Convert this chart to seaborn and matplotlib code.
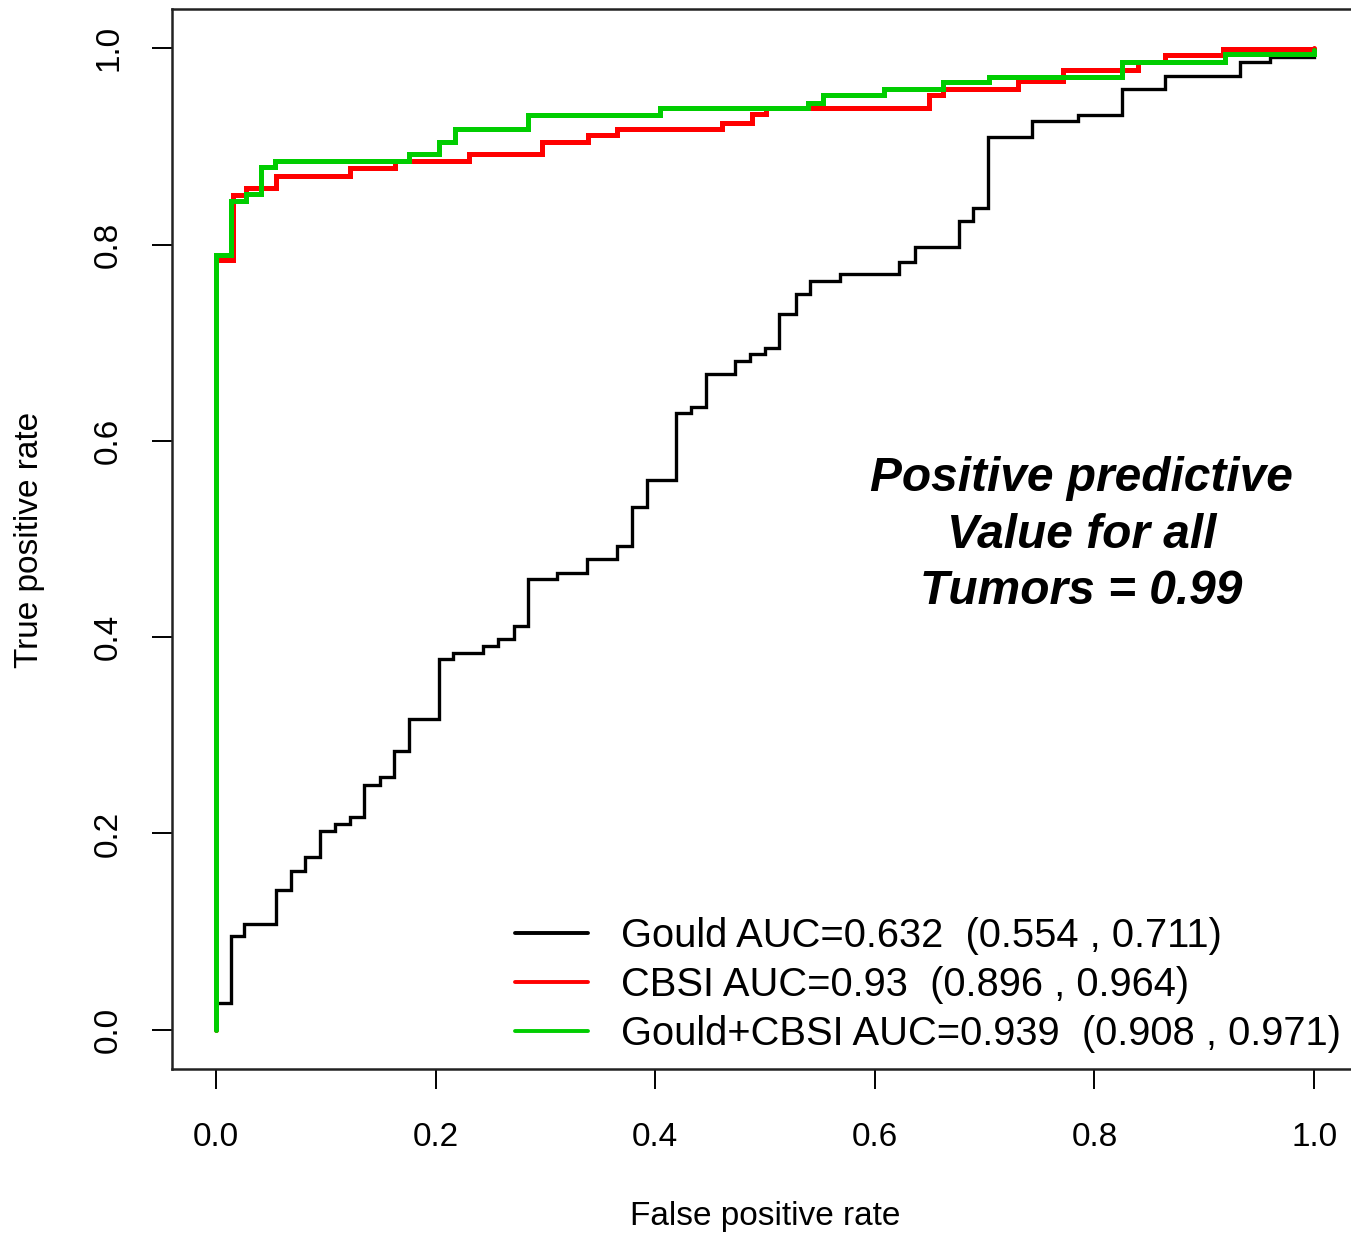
import numpy as np
import pandas as pd
import matplotlib
matplotlib.use("Agg")
import matplotlib.pyplot as plt
import seaborn as sns

# ROC step breakpoints (false positive rate) and the true positive rate reached at each
gould_fpr = [0.000, 0.014, 0.026, 0.055, 0.068, 0.081, 0.095, 0.108, 0.122, 0.135,
             0.149, 0.162, 0.176, 0.203, 0.216, 0.243, 0.257, 0.271, 0.284, 0.311,
             0.338, 0.365, 0.379, 0.393, 0.419, 0.433, 0.446, 0.473, 0.486, 0.500,
             0.513, 0.528, 0.541, 0.568, 0.622, 0.637, 0.677, 0.689, 0.703, 0.743,
             0.785, 0.825, 0.864, 0.933, 0.960, 1.000]
gould_tpr = [0.027, 0.095, 0.108, 0.142, 0.162, 0.176, 0.202, 0.210, 0.217, 0.249,
             0.257, 0.284, 0.317, 0.378, 0.384, 0.391, 0.398, 0.411, 0.459, 0.465,
             0.480, 0.493, 0.533, 0.560, 0.628, 0.634, 0.668, 0.681, 0.688, 0.695,
             0.729, 0.750, 0.763, 0.770, 0.782, 0.797, 0.824, 0.837, 0.910, 0.926,
             0.932, 0.959, 0.972, 0.986, 0.991, 1.000]

cbsi_fpr = [0.000, 0.016, 0.027, 0.055, 0.122, 0.163, 0.230, 0.297, 0.339, 0.365,
            0.461, 0.488, 0.501, 0.649, 0.662, 0.730, 0.771, 0.840, 0.864, 0.917, 1.000]
cbsi_tpr = [0.784, 0.851, 0.858, 0.870, 0.878, 0.885, 0.892, 0.905, 0.912, 0.918,
            0.924, 0.933, 0.939, 0.952, 0.959, 0.967, 0.978, 0.986, 0.993, 0.999, 1.000]

combo_fpr = [0.000, 0.014, 0.027, 0.041, 0.054, 0.176, 0.203, 0.218, 0.284, 0.404,
             0.539, 0.553, 0.608, 0.662, 0.704, 0.825, 0.919, 1.000]
combo_tpr = [0.789, 0.844, 0.852, 0.879, 0.885, 0.892, 0.904, 0.918, 0.932, 0.939,
             0.944, 0.952, 0.959, 0.966, 0.971, 0.986, 0.994, 0.998]

series_labels = ["Gould AUC=0.632  (0.554 , 0.711)",
                 "CBSI AUC=0.93  (0.896 , 0.964)",
                 "Gould+CBSI AUC=0.939  (0.908 , 0.971)"]
series_colors = ["#000000", "#FF0000", "#00CD00"]
series_widths = [2.4, 3.6, 3.6]

tick_values = [0.0, 0.2, 0.4, 0.6, 0.8, 1.0]
annotation = "Positive predictive\nValue for all\nTumors = 0.99"

sns.set_theme(style="white")
plt.rcParams["font.family"] = ["Liberation Sans", "DejaVu Sans"]

W, H = 1351, 1233
fig = plt.figure(figsize=(W / 100, H / 100), dpi=100)
fig.patch.set_facecolor("white")
# plot region in pixel terms: x from 172 to 1358, y from 9 to 1069 (top-down)
ax = fig.add_axes([172 / W, (H - 1069) / H, (1358 - 172) / W, (1069 - 9) / H])

curves = [(gould_fpr, gould_tpr), (cbsi_fpr, cbsi_tpr), (combo_fpr, combo_tpr)]
for (fx, ty), lab, col, lw in zip(curves, series_labels, series_colors, series_widths):
    df = pd.DataFrame({"fpr": [0.0] + list(fx), "tpr": [0.0] + list(ty)})
    sns.lineplot(data=df, x="fpr", y="tpr", estimator=None, sort=False,
                 drawstyle="steps-post", color=col, linewidth=lw, label=lab,
                 ax=ax, solid_joinstyle="miter")

ax.set_xlim(-0.04, 1.04)
ax.set_ylim(-0.04, 1.04)
ax.set_xticks(tick_values)
ax.set_yticks(tick_values)
ax.set_xticklabels([f"{v:.1f}" for v in tick_values])
ax.set_yticklabels([f"{v:.1f}" for v in tick_values], rotation=90, va="center")

ax.tick_params(axis="both", direction="out", length=14.4, width=1.4,
               color="black", labelsize=24, labelcolor="black")
ax.tick_params(axis="x", pad=24, bottom=True)
ax.tick_params(axis="y", pad=20, left=True)

for sp in ax.spines.values():
    sp.set_visible(True)
    sp.set_color("#222222")
    sp.set_linewidth(1.8)

ax.set_xlabel("False positive rate", fontsize=24, color="black")
ax.set_ylabel("True positive rate", fontsize=24, color="black")
ax.xaxis.label.set_va("center")
ax.yaxis.label.set_va("center")
ax.xaxis.set_label_coords((765 - 172) / 1186, (1069 - 1216) / 1060)
ax.yaxis.set_label_coords((30 - 172) / 1186, (1069 - 540) / 1060)

ax.text(0.788, 0.504, annotation, transform=ax.transData, ha="center", va="center",
        fontsize=34.5, fontweight="bold", fontstyle="italic", color="black",
        linespacing=1.33)

leg = ax.legend(loc="center left", bbox_to_anchor=(515 / W, 1 - 985 / H),
                bbox_transform=fig.transFigure, frameon=False, fontsize=28.7,
                handlelength=1.82, handletextpad=0.85, labelspacing=0.28,
                borderpad=0, borderaxespad=0)
for line in leg.get_lines():
    line.set_linewidth(2.8)
for t in leg.get_texts():
    t.set_color("black")

fig.savefig("out.png", dpi=100, facecolor="white")
